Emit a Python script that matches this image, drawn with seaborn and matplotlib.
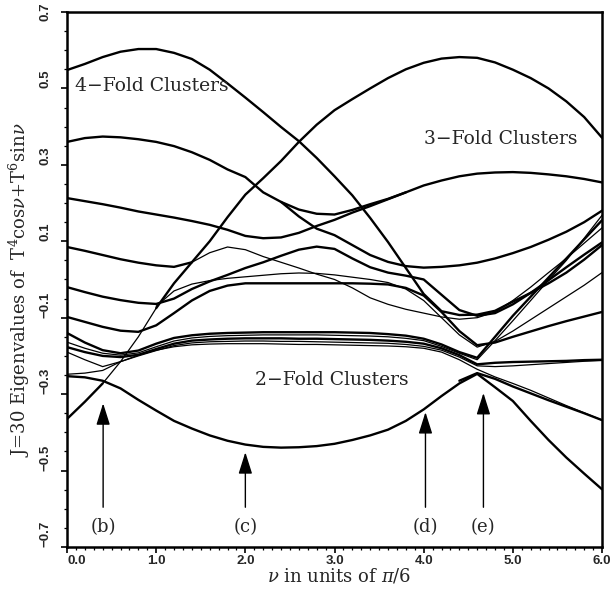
import numpy as np
import pandas as pd
import matplotlib
matplotlib.use("Agg")
import matplotlib.pyplot as plt
import seaborn as sns
from matplotlib.ticker import MultipleLocator

nu = [0.0, 0.2, 0.4, 0.6, 0.8, 1.0, 1.2, 1.4, 1.6, 1.8, 2.0, 2.2, 2.4, 2.6, 2.8, 3.0,
      3.2, 3.4, 3.6, 3.8, 4.0, 4.2, 4.4, 4.6, 4.8, 5.0, 5.2, 5.4, 5.6, 5.8, 6.0]
N = None

c1_top = [0.548, 0.564, 0.582, 0.596, 0.603, 0.603, 0.593, 0.577, 0.549, 0.513, 0.476, 0.438,
          0.399, 0.362, 0.318, 0.27, 0.22, 0.161, 0.098, 0.03, -0.038, -0.083, -0.093, -0.092,
          -0.082, -0.058, -0.035, -0.01, 0.018, 0.052, 0.09]
diag = [-0.365, -0.32, -0.272, -0.215, -0.15, -0.075, -0.01, 0.045, 0.1, 0.163, 0.222, 0.265,
        0.31, 0.36, 0.405, 0.443, 0.472, 0.5, 0.527, 0.55, 0.567, 0.578, 0.582, 0.58, 0.568,
        0.549, 0.527, 0.5, 0.466, 0.425, 0.371]
c2 = [0.36, 0.37, 0.374, 0.372, 0.367, 0.36, 0.349, 0.333, 0.313, 0.288, 0.268, 0.228, 0.203,
      0.183, 0.172, 0.17, 0.182, 0.197, 0.211, 0.228, N, N, N, N, N, N, N, N, N, N, N]
c3 = [0.213, 0.205, 0.197, 0.188, 0.178, 0.17, 0.162, 0.153, 0.143, 0.13, 0.114, 0.108, 0.11,
      0.122, 0.14, 0.156, 0.175, 0.192, 0.21, 0.228, 0.246, 0.259, 0.27, 0.277, 0.28, 0.281,
      0.279, 0.275, 0.27, 0.263, 0.254]
c4 = [0.085, 0.075, 0.064, 0.053, 0.044, 0.037, 0.033, 0.045, N, N, N, N, N, N, N, N, N, N, N,
      N, N, N, N, N, N, N, N, N, N, N, N]
c5 = [N, N, N, N, N, N, N, N, N, N, N, N, 0.203, 0.165, 0.133, 0.116, 0.09, 0.064, 0.046,
      0.035, 0.031, 0.033, 0.037, 0.044, 0.055, 0.069, 0.085, 0.104, 0.125, 0.15, 0.18]
c6_hump = [-0.02, -0.033, -0.045, -0.054, -0.061, -0.064, -0.05, -0.025, -0.005, 0.012, 0.03,
           0.045, 0.062, 0.078, 0.086, 0.08, 0.055, 0.032, 0.018, 0.01, 0.0, -0.04, -0.08,
           -0.095, -0.088, -0.065, -0.035, -0.002, 0.032, 0.065, 0.097]
t6 = [N, N, N, N, N, N, N, 0.045, 0.07, 0.085, 0.078, 0.06, 0.045, 0.03, 0.014, 0.0, -0.022,
      -0.048, -0.065, -0.078, -0.088, -0.098, -0.104, -0.1, -0.085, -0.055, -0.02, 0.018,
      0.055, 0.095, 0.135]
fl1 = [N, N, N, N, N, -0.07, -0.03, -0.012, -0.003, 0.003, 0.007, 0.011, 0.015, 0.017, 0.016,
       0.012, 0.006, 0.0, -0.008, -0.025, -0.055, -0.1, -0.145, -0.177, -0.162, -0.135, -0.105,
       -0.075, -0.045, -0.015, 0.018]
fl2 = [-0.098, -0.111, -0.124, -0.134, -0.137, -0.12, -0.088, -0.055, -0.03, -0.016, -0.01,
       -0.01, -0.01, -0.01, -0.01, -0.01, -0.01, -0.011, -0.013, -0.022, -0.042, -0.085,
       -0.135, -0.172, -0.165, -0.15, -0.136, -0.122, -0.109, -0.097, -0.085]
bd1 = [-0.14, -0.165, -0.185, -0.193, -0.186, -0.168, -0.153, -0.146, -0.142, -0.14, -0.139,
       -0.138, -0.138, -0.138, -0.138, -0.138, -0.139, -0.14, -0.143, -0.147, -0.155, -0.17,
       -0.19, -0.205, -0.15, -0.095, -0.045, 0.005, 0.055, 0.105, 0.155]
bd2 = [-0.164, -0.18, -0.193, -0.198, -0.192, -0.176, -0.161, -0.153, -0.149, -0.147, -0.146,
       -0.145, -0.145, -0.145, -0.145, -0.146, -0.147, -0.148, -0.15, -0.154, -0.16, -0.175,
       -0.193, -0.21, -0.16, -0.108, -0.055, -0.002, 0.05, 0.108, 0.168]
bd3 = [-0.177, -0.19, -0.2, -0.203, -0.197, -0.182, -0.168, -0.16, -0.157, -0.155, -0.154,
       -0.154, -0.154, -0.155, -0.155, -0.156, -0.157, -0.158, -0.16, -0.163, -0.168, -0.18,
       -0.198, -0.222, -0.218, -0.216, -0.215, -0.214, -0.213, -0.211, -0.21]
bd4 = [-0.19, -0.21, -0.228, -0.215, -0.2, -0.186, -0.173, -0.166, -0.163, -0.162, -0.161,
       -0.161, -0.162, -0.162, -0.163, -0.164, -0.165, -0.166, -0.167, -0.17, -0.175, -0.185,
       -0.203, -0.226, -0.228, -0.226, -0.223, -0.22, -0.217, -0.214, -0.212]
bd5 = [-0.248, -0.245, -0.238, -0.215, -0.198, -0.185, -0.176, -0.171, -0.169, -0.168, -0.168,
       -0.168, -0.169, -0.17, -0.17, -0.171, -0.172, -0.173, -0.174, -0.176, -0.18, -0.19,
       -0.21, -0.235, -0.255, -0.272, -0.29, -0.31, -0.33, -0.349, -0.368]
b_bottom = [-0.253, -0.256, -0.265, -0.285, -0.315, -0.343, -0.37, -0.39, -0.408, -0.422,
            -0.432, -0.438, -0.44, -0.439, -0.436, -0.43, -0.42, -0.408, -0.393, -0.37, -0.34,
            -0.305, -0.272, -0.247, -0.282, -0.318, -0.37, -0.42, -0.466, -0.508, -0.549]
b_right = [N, N, N, N, N, N, N, N, N, N, N, N, N, N, N, N, N, N, N, N, N, N, -0.265, -0.245,
           -0.26, -0.28, -0.298, -0.316, -0.333, -0.35, -0.368]

# arrow markers (b)-(e)
arrow_labels = ["(b)", "(c)", "(d)", "(e)"]
arrow_nu = [0.405, 2.0, 4.02, 4.67]
arrow_tip = [-0.324, -0.452, -0.347, -0.297]

# --- long-form table for seaborn ---
thick_curves = {"c1": c1_top, "c2": c2, "c3": c3, "c4": c4, "c5": c5, "c6": c6_hump,
                "fl2": fl2, "bd1": bd1, "bd3": bd3, "b": b_bottom, "b2": b_right}
thin_curves = {"t6": t6, "fl1": fl1, "bd2": bd2, "bd4": bd4, "bd5": bd5}

rows = []
for group, curves in (("thick", thick_curves), ("thin", thin_curves)):
    for name, vals in curves.items():
        for x, y in zip(nu, vals):
            if y is not None:
                rows.append({"nu": x, "E": y, "curve": name, "w": group})
# the rising diagonal: thick at both ends, thin in the middle
for i, (x, y) in enumerate(zip(nu, diag)):
    if i <= 2:
        rows.append({"nu": x, "E": y, "curve": "diag_a", "w": "thick"})
    if 2 <= i <= 5:
        rows.append({"nu": x, "E": y, "curve": "diag_b", "w": "thin"})
    if i >= 5:
        rows.append({"nu": x, "E": y, "curve": "diag_c", "w": "thick"})
df = pd.DataFrame(rows)

# --- plot ---
sns.set_style("ticks")
plt.rcParams["font.family"] = ["DejaVu Serif"]
plt.rcParams["mathtext.fontset"] = "dejavuserif"

fig = plt.figure(figsize=(6.16, 5.90), dpi=100)
ax = fig.add_axes([0.1088, 0.0729, 0.8685, 0.9068])

for group, lw in (("thick", 1.7), ("thin", 0.9)):
    sub = df[df["w"] == group]
    sns.lineplot(data=sub, x="nu", y="E", units="curve", estimator=None, sort=False,
                 color="black", lw=lw, ax=ax, legend=False)

ax.set_xlim(0, 6)
ax.set_ylim(-0.7, 0.7)
for s in ax.spines.values():
    s.set_linewidth(1.8)
    s.set_color("black")

ax.set_xticks([0, 1, 2, 3, 4, 5, 6])
ax.set_xticklabels(["0.0", "1.0", "2.0", "3.0", "4.0", "5.0", "6.0"])
ax.xaxis.set_minor_locator(MultipleLocator(0.1))
yt = [-0.7, -0.5, -0.3, -0.1, 0.1, 0.3, 0.5, 0.7]
ax.set_yticks(yt)
ax.set_yticklabels(["\u22120.7", "\u22120.5", "\u22120.3", "\u22120.1", "0.1", "0.3", "0.5", "0.7"])
ax.yaxis.set_minor_locator(MultipleLocator(0.05))
ax.tick_params(which="major", direction="out", length=4, width=1.2, color="black",
               top=False, right=False, pad=1.5)
ax.tick_params(which="minor", direction="out", length=2.2, width=0.9, color="black",
               top=False, right=False)
ax.tick_params(axis="y", which="major", pad=7)
for lab in ax.get_xticklabels() + ax.get_yticklabels():
    lab.set_fontfamily("Liberation Sans")
    lab.set_fontweight("bold")
    lab.set_fontsize(9.5)
for lab in ax.get_yticklabels():
    lab.set_rotation(90)
    lab.set_va("bottom")
ax.get_yticklabels()[-1].set_va("center")
ax.get_xticklabels()[0].set_ha("left")

ax.set_xlabel(r"$\nu$ in units of $\pi$/6", fontsize=13)
ax.xaxis.set_label_coords(0.508, -0.036)
ax.set_ylabel(r"J=30 Eigenvalues of  T$^4$cos$\nu$+T$^6$sin$\nu$", fontsize=13)
ax.yaxis.set_label_coords(-0.066, 0.48)

ax.text(0.09, 0.507, "4\u2212Fold Clusters", fontsize=13.5, va="center", ha="left")
ax.text(4.0, 0.368, "3\u2212Fold Clusters", fontsize=13.5, va="center", ha="left")
ax.text(2.11, -0.263, "2\u2212Fold Clusters", fontsize=13.5, va="center", ha="left")

for lab, x, tip in zip(arrow_labels, arrow_nu, arrow_tip):
    ax.annotate("", xy=(x, tip), xytext=(x, -0.596),
                arrowprops=dict(arrowstyle="-|>,head_length=0.95,head_width=0.3",
                                color="black", lw=1.0, shrinkA=0, shrinkB=0,
                                mutation_scale=14))
    ax.text(x, -0.648, lab, fontsize=13, ha="center", va="center")

fig.savefig("out.png", dpi=100)
